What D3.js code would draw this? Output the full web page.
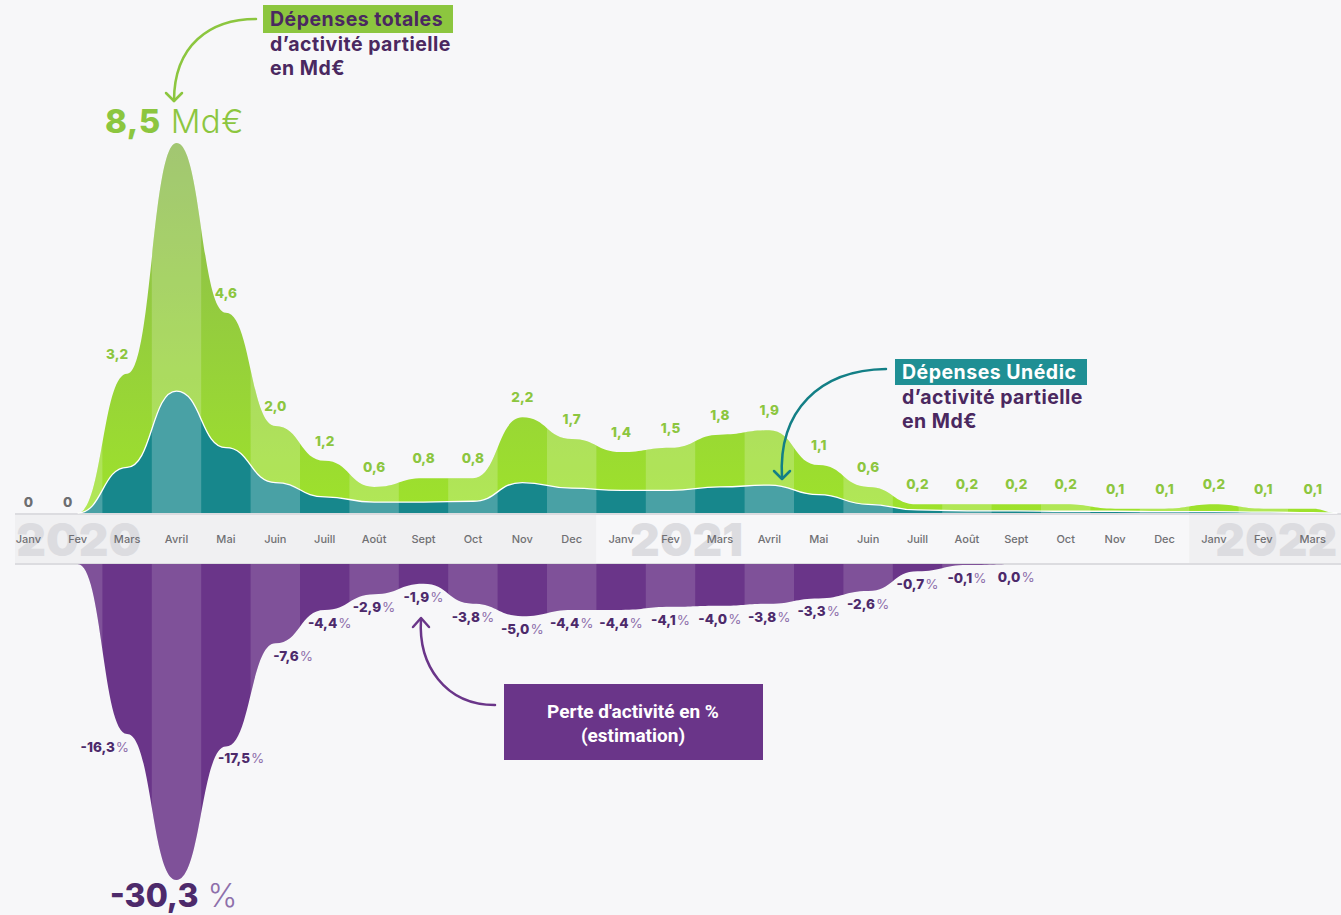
<!DOCTYPE html>
<html>
<head>
<meta charset="utf-8">
<script src="https://cdnjs.cloudflare.com/ajax/libs/d3/7.8.5/d3.min.js"></script>
<style>
  body { margin: 0; background: #f7f7f9; }
  svg { display: block; font-family: Inter, "Noto Sans", sans-serif; }
</style>
</head>
<body>
<div id="chart"></div>
<script>
var width = 1341, height = 915;

// months, Janv 2020 -> Mars 2022
var mois = ["Janv","Fev","Mars","Avril","Mai","Juin","Juill","Août","Sept","Oct","Nov","Dec",
            "Janv","Fev","Mars","Avril","Mai","Juin","Juill","Août","Sept","Oct","Nov","Dec",
            "Janv","Fev","Mars"];
var annees = ["2020", "2021", "2022"];

// Md€
var depensesTotales = [0, 0, 3.2, 8.5, 4.6, 2.0, 1.2, 0.6, 0.8, 0.8, 2.2, 1.7,
                       1.4, 1.5, 1.8, 1.9, 1.1, 0.6, 0.2, 0.2, 0.2, 0.2, 0.1, 0.1,
                       0.2, 0.1, 0.1];
// Md€ (no labels on the picture, estimated)
var depensesUnedic = [0, 0, 1.05, 2.8, 1.5, 0.7, 0.37, 0.25, 0.25, 0.27, 0.7, 0.57,
                      0.52, 0.52, 0.6, 0.64, 0.42, 0.2, 0.07, 0.05, 0.05, 0.04, 0.04, 0.03,
                      0.03, 0.02, 0.01];
// % (estimation), Janv 2020 -> Sept 2021
var perteActivite = [null, 0, -16.3, -30.3, -17.5, -7.6, -4.4, -2.9, -1.9, -3.8, -5.0, -4.4,
                     -4.4, -4.1, -4.0, -3.8, -3.3, -2.6, -0.7, -0.1, 0.0];

var fr = d3.formatLocale({decimal: ",", thousands: " ", grouping: [3], currency: ["", "€"], minus: "-"});
var fmt = fr.format(".1f");

var svg = d3.select("#chart")
  .append("svg")
    .attr("width", width)
    .attr("height", height);

var x = d3.scaleBand()
  .domain(d3.range(mois.length))
  .range([3.6, 1337.4]);
var bw = x.bandwidth();
function cx(i) { return x(i) + bw / 2; }

var yTop = d3.scaleLinear().domain([0, 8.5]).range([513, 143]);
var yBot = d3.scaleLinear().domain([0, -30.3]).range([564, 880]);

var defs = svg.append("defs");
var grad = defs.append("linearGradient")
  .attr("id", "vert")
  .attr("gradientUnits", "userSpaceOnUse")
  .attr("x1", 0).attr("x2", 0)
  .attr("y1", yTop(8.5)).attr("y2", yTop(0));
grad.append("stop").attr("offset", "0%").attr("stop-color", "#8bb94f");
grad.append("stop").attr("offset", "100%").attr("stop-color", "#9ee22b");

// top series
function topData(arr) {
  var pts = arr.map(function(v, i) { return {x: cx(i), v: v}; });
  pts.push({x: x.range()[1], v: 0});
  return pts;
}
var areaTop = d3.area()
  .curve(d3.curveBumpX)
  .x(function(d) { return d.x; })
  .y0(yTop(0))
  .y1(function(d) { return yTop(d.v); });

var areaBot = d3.area()
  .curve(d3.curveBumpX)
  .defined(function(d) { return d.v !== null; })
  .x(function(d) { return d.x; })
  .y0(yBot(0))
  .y1(function(d) { return yBot(d.v); });

var totData = topData(depensesTotales);
var unData = topData(depensesUnedic);
var perteData = perteActivite.map(function(v, i) { return {x: cx(i), v: v}; });

// clip paths for the lighter stripes
defs.append("clipPath").attr("id", "clipTot").append("path").attr("d", areaTop(totData));
defs.append("clipPath").attr("id", "clipUn").append("path").attr("d", areaTop(unData));
defs.append("clipPath").attr("id", "clipPerte").append("path").attr("d", areaBot(perteData));

function stripes(clip, y0, h, op) {
  svg.append("g")
    .attr("clip-path", "url(#" + clip + ")")
    .selectAll("rect")
    .data(d3.range(mois.length).filter(function(i) { return i % 2 == 1; }))
    .enter().append("rect")
      .attr("x", function(i) { return x(i); })
      .attr("y", y0)
      .attr("width", bw)
      .attr("height", h)
      .attr("fill", "#fff")
      .attr("fill-opacity", op);
}

// axis band
var bandTop = 514, bandBot = 564;
var yearStart = [0, 12, 24];
var yearFill = ["#f0f0f2", "#f7f7f9", "#f0f0f2"];
svg.append("g").selectAll("rect")
  .data(annees)
  .enter().append("rect")
    .attr("x", function(d, k) { return k == 0 ? 15 : x(yearStart[k]); })
    .attr("y", bandTop)
    .attr("width", function(d, k) {
      var x0 = k == 0 ? 15 : x(yearStart[k]);
      var x1 = k == annees.length - 1 ? width : x(yearStart[k + 1]);
      return x1 - x0;
    })
    .attr("height", bandBot - bandTop)
    .attr("fill", function(d, k) { return yearFill[k]; });

var yearDx = [1, 16, 13];
svg.append("g").selectAll("text")
  .data(annees)
  .enter().append("text")
    .attr("x", function(d, k) { return cx(yearStart[k] + 1) + yearDx[k]; })
    .attr("y", 556)
    .attr("text-anchor", "middle")
    .attr("font-size", 46)
    .attr("font-weight", 900)
    .attr("fill", "#dcdce0")
    .text(function(d) { return d; });

[bandTop, bandBot].forEach(function(yy) {
  svg.append("line")
    .attr("x1", 15).attr("x2", width)
    .attr("y1", yy).attr("y2", yy)
    .attr("stroke", "#dcdce0")
    .attr("stroke-width", 2);
});

var xAxis = svg.append("g")
  .attr("transform", "translate(0,539)")
  .call(d3.axisBottom(x).tickSize(0).tickFormat(function(i) { return mois[i]; }));
xAxis.select(".domain").remove();
xAxis.selectAll("text")
  .attr("y", 0)
  .attr("dy", "0.35em")
  .attr("font-family", "Inter, sans-serif")
  .attr("font-size", 11)
  .attr("font-weight", 500)
  .attr("fill", "#707074");

// green total area
svg.append("path")
  .attr("d", areaTop(totData))
  .attr("fill", "url(#vert)");
stripes("clipTot", yTop(8.5), yTop(0) - yTop(8.5), 0.2);

// teal Unédic area
svg.append("path")
  .attr("d", areaTop(unData))
  .attr("fill", "#17878c");
stripes("clipUn", yTop(8.5), yTop(0) - yTop(8.5), 0.22);
svg.append("path")
  .attr("d", d3.line().curve(d3.curveBumpX)
    .x(function(d) { return d.x; })
    .y(function(d) { return yTop(d.v); })(unData.filter(function(d, i) { return i > 0; })))
  .attr("fill", "none")
  .attr("stroke", "#fff")
  .attr("stroke-width", 1.3);

// purple loss area
svg.append("path")
  .attr("d", areaBot(perteData))
  .attr("fill", "#6a3589");
stripes("clipPerte", yBot(0), yBot(-30.3) - yBot(0), 0.14);

// labels, totals
var green = "#8cc63f";
svg.append("g").selectAll("text")
  .data(depensesTotales.map(function(v, i) { return {v: v, i: i}; }).filter(function(d) { return d.i != 3; }))
  .enter().append("text")
    .attr("x", function(d) {
      if (d.i == 1) return cx(d.i) - 10;
      if (d.i == 2) return cx(d.i) - 10;
      return cx(d.i);
    })
    .attr("y", function(d) { return d.v == 0 ? yTop(0) - 6 : yTop(d.v) - 15; })
    .attr("text-anchor", "middle")
    .attr("font-size", 13.5)
    .attr("font-weight", 800)
    .attr("fill", function(d) { return d.v == 0 ? "#6d6e71" : green; })
    .text(function(d) { return d.v == 0 ? "0" : fmt(d.v); });

var big = svg.append("text")
  .attr("x", cx(3) - 2)
  .attr("y", yTop(8.5) - 10)
  .attr("text-anchor", "middle")
  .attr("font-size", 33)
  .attr("letter-spacing", 0.5)
  .attr("fill", green);
big.append("tspan").attr("font-weight", 800).text(fmt(8.5));
big.append("tspan").attr("font-weight", 300).text(" Md€");

// labels, loss
var dark = "#4d2a6b", lightP = "#8e6fab";
var pl = svg.append("g").selectAll("text")
  .data(perteActivite.map(function(v, i) { return {v: v, i: i}; }).filter(function(d) { return d.i >= 2 && d.i != 3; }))
  .enter().append("text")
    .attr("x", function(d) {
      if (d.i == 2) return cx(d.i) + 2;
      if (d.i == 4) return cx(d.i) - 8;
      if (d.i == 5) return cx(d.i) - 2;
      return cx(d.i) + (d.i == 6 ? 5 : 0);
    })
    .attr("y", function(d) { return yBot(d.v) + (d.i == 4 ? 16 : 18); })
    .attr("text-anchor", function(d) { return d.i == 2 ? "end" : (d.i == 4 || d.i == 5) ? "start" : "middle"; })
    .attr("font-size", 13.5);
pl.append("tspan").attr("font-weight", 800).attr("fill", dark).text(function(d) { return fmt(d.v); });
pl.append("tspan").attr("font-weight", 400).attr("fill", lightP).attr("dx", 1).text("%");

var bigP = svg.append("text")
  .attr("x", cx(3) - 3)
  .attr("y", yBot(-30.3) + 27)
  .attr("text-anchor", "middle")
  .attr("font-size", 32);
bigP.append("tspan").attr("font-weight", 800).attr("fill", dark).text(fmt(-30.3));
bigP.append("tspan").attr("font-weight", 300).attr("fill", lightP).text(" %");

// annotations
var titleCol = "#4a2860";
function arrow(d, head, col) {
  svg.append("path").attr("d", d).attr("fill", "none").attr("stroke", col)
    .attr("stroke-width", 2.5).attr("stroke-linecap", "round");
  svg.append("path").attr("d", head).attr("fill", "none").attr("stroke", col)
    .attr("stroke-width", 2.5).attr("stroke-linecap", "round").attr("stroke-linejoin", "round");
}

// Dépenses totales
svg.append("rect").attr("x", 263).attr("y", 5).attr("width", 190).attr("height", 28).attr("fill", green);
var t1 = svg.append("text").attr("x", 270).attr("font-size", 19.5).attr("letter-spacing", 0.5)
  .attr("font-weight", 700).attr("fill", titleCol);
t1.append("tspan").attr("x", 270).attr("y", 26).text("Dépenses totales");
t1.append("tspan").attr("x", 270).attr("y", 51).text("d’activité partielle");
t1.append("tspan").attr("x", 270).attr("y", 75).text("en Md€");
arrow("M256,19 C210,19 174,45 174,101", "M166,93 L174,101 L182,93", green);

// Dépenses Unédic
var teal = "#1f8f94";
svg.append("rect").attr("x", 895).attr("y", 359).attr("width", 192).attr("height", 26).attr("fill", teal);
var t2 = svg.append("text").attr("font-size", 19.5).attr("letter-spacing", 0.5)
  .attr("font-weight", 700).attr("fill", titleCol);
t2.append("tspan").attr("x", 902).attr("y", 379).attr("fill", "#fff").text("Dépenses Unédic");
t2.append("tspan").attr("x", 902).attr("y", 404).text("d’activité partielle");
t2.append("tspan").attr("x", 902).attr("y", 428).text("en Md€");
arrow("M886,369 C820,370 778,410 782,478", "M774,471 L782,479 L790,471", "#137f86");

// Perte d'activité
svg.append("rect").attr("x", 504).attr("y", 684).attr("width", 259).attr("height", 76).attr("fill", "#6a3589");
var t3 = svg.append("text").attr("text-anchor", "middle").attr("font-family", "Roboto, sans-serif")
  .attr("font-size", 19).attr("font-weight", 700).attr("fill", "#fff");
t3.append("tspan").attr("x", 633).attr("y", 718).text("Perte d'activité en %");
t3.append("tspan").attr("x", 633).attr("y", 742).text("(estimation)");
arrow("M495,705 C445,705 418,665 421,619", "M413,627 L421,618 L429,627", "#6a3589");
</script>
</body>
</html>
